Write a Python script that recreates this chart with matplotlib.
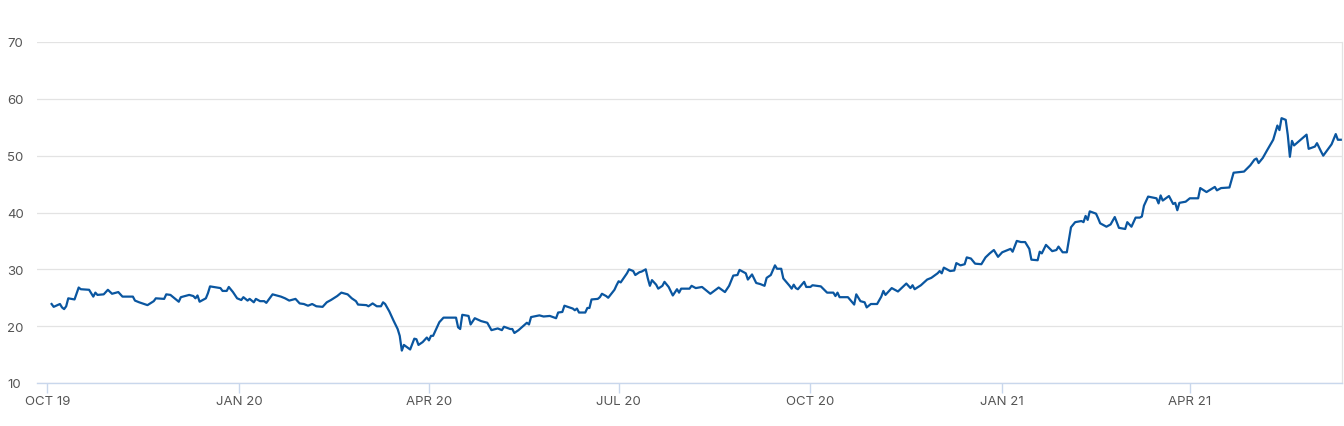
import matplotlib
matplotlib.use("Agg")
import matplotlib.pyplot as plt
import pandas as pd

plt.rcParams['font.family'] = ['Inter', 'DejaVu Sans']

dates_2019 = [
    "2019-10-03", "2019-10-04", "2019-10-07", "2019-10-08", "2019-10-09", "2019-10-10",
    "2019-10-11", "2019-10-14", "2019-10-16", "2019-10-17", "2019-10-21", "2019-10-23",
    "2019-10-24", "2019-10-25", "2019-10-28", "2019-10-30", "2019-11-01", "2019-11-04",
    "2019-11-06", "2019-11-11", "2019-11-12", "2019-11-14", "2019-11-18", "2019-11-21",
    "2019-11-22", "2019-11-26", "2019-11-27", "2019-11-29", "2019-12-03", "2019-12-04",
    "2019-12-08", "2019-12-10", "2019-12-11", "2019-12-12", "2019-12-13", "2019-12-16",
    "2019-12-17", "2019-12-18", "2019-12-23", "2019-12-24", "2019-12-26", "2019-12-27",
    "2019-12-29", "2019-12-31",
]
values_2019 = [
    23.9, 23.4, 23.9, 23.3, 23.0, 23.5,
    24.9, 24.7, 26.8, 26.5, 26.4, 25.2,
    25.9, 25.5, 25.6, 26.4, 25.7, 26.0,
    25.2, 25.2, 24.5, 24.2, 23.7, 24.4,
    24.9, 24.8, 25.6, 25.5, 24.3, 25.1,
    25.5, 25.3, 24.9, 25.4, 24.3, 24.9,
    25.8, 27.0, 26.7, 26.2, 26.2, 26.9,
    26.0, 24.9,
]

dates_2020a = [
    "2020-01-02", "2020-01-03", "2020-01-05", "2020-01-06", "2020-01-08", "2020-01-09",
    "2020-01-11", "2020-01-13", "2020-01-14", "2020-01-17", "2020-01-21", "2020-01-23",
    "2020-01-25", "2020-01-28", "2020-01-30", "2020-02-01", "2020-02-03", "2020-02-05",
    "2020-02-07", "2020-02-10", "2020-02-12", "2020-02-14", "2020-02-17", "2020-02-19",
    "2020-02-22", "2020-02-24", "2020-02-26", "2020-02-27", "2020-03-02", "2020-03-03",
    "2020-03-05", "2020-03-07", "2020-03-09", "2020-03-10", "2020-03-11", "2020-03-13",
    "2020-03-15", "2020-03-17", "2020-03-18", "2020-03-19", "2020-03-20", "2020-03-23",
    "2020-03-25", "2020-03-26", "2020-03-27", "2020-03-29", "2020-03-31", "2020-04-01",
    "2020-04-02", "2020-04-03", "2020-04-06", "2020-04-08", "2020-04-13", "2020-04-14",
    "2020-04-15", "2020-04-16", "2020-04-17", "2020-04-20", "2020-04-21", "2020-04-23",
    "2020-04-26", "2020-04-29", "2020-05-01", "2020-05-04", "2020-05-06", "2020-05-07",
    "2020-05-10", "2020-05-11", "2020-05-12", "2020-05-14", "2020-05-18", "2020-05-19",
    "2020-05-20", "2020-05-24", "2020-05-26", "2020-05-29", "2020-06-01", "2020-06-02",
    "2020-06-04", "2020-06-05", "2020-06-09", "2020-06-10", "2020-06-11", "2020-06-12",
    "2020-06-15", "2020-06-16", "2020-06-17", "2020-06-18", "2020-06-21", "2020-06-22",
    "2020-06-23", "2020-06-25", "2020-06-26", "2020-06-29", "2020-06-30",
]
values_2020a = [
    24.6, 25.1, 24.5, 24.8, 24.2, 24.8,
    24.4, 24.4, 24.1, 25.6, 25.2, 24.9,
    24.5, 24.8, 24.0, 23.9, 23.6, 23.9,
    23.5, 23.4, 24.2, 24.6, 25.3, 25.9,
    25.6, 24.9, 24.4, 23.8, 23.7, 23.5,
    24.0, 23.5, 23.5, 24.2, 23.9, 22.6,
    21.0, 19.5, 18.3, 15.7, 16.7, 15.9,
    17.8, 17.7, 16.7, 17.2, 18.0, 17.5,
    18.3, 18.3, 20.7, 21.5, 21.5, 21.5,
    19.8, 19.5, 22.0, 21.8, 20.3, 21.4,
    20.9, 20.6, 19.3, 19.6, 19.3, 19.9,
    19.5, 19.5, 18.8, 19.3, 20.6, 20.3,
    21.6, 21.9, 21.7, 21.8, 21.4, 22.4,
    22.5, 23.6, 23.1, 22.8, 23.1, 22.4,
    22.4, 23.2, 23.2, 24.7, 24.8, 25.1,
    25.7, 25.3, 25.0, 26.4, 27.2,
]

dates_2020b = [
    "2020-07-01", "2020-07-02", "2020-07-05", "2020-07-06", "2020-07-08", "2020-07-09",
    "2020-07-11", "2020-07-12", "2020-07-14", "2020-07-15", "2020-07-16", "2020-07-17",
    "2020-07-19", "2020-07-20", "2020-07-22", "2020-07-23", "2020-07-25", "2020-07-27",
    "2020-07-29", "2020-07-30", "2020-07-31", "2020-08-04", "2020-08-05", "2020-08-07",
    "2020-08-10", "2020-08-14", "2020-08-18", "2020-08-21", "2020-08-23", "2020-08-25",
    "2020-08-27", "2020-08-28", "2020-08-31", "2020-09-01", "2020-09-03", "2020-09-05",
    "2020-09-07", "2020-09-09", "2020-09-10", "2020-09-12", "2020-09-14", "2020-09-15",
    "2020-09-17", "2020-09-18", "2020-09-21", "2020-09-22", "2020-09-23", "2020-09-24",
    "2020-09-25", "2020-09-28", "2020-09-29", "2020-10-01", "2020-10-02", "2020-10-06",
    "2020-10-09", "2020-10-12", "2020-10-13", "2020-10-14", "2020-10-15", "2020-10-19",
    "2020-10-22", "2020-10-23", "2020-10-25", "2020-10-27", "2020-10-28", "2020-10-30",
    "2020-11-02", "2020-11-04", "2020-11-05", "2020-11-06", "2020-11-09", "2020-11-12",
    "2020-11-16", "2020-11-18", "2020-11-19", "2020-11-20", "2020-11-23", "2020-11-26",
    "2020-11-28", "2020-12-01", "2020-12-02", "2020-12-03", "2020-12-04", "2020-12-07",
    "2020-12-09", "2020-12-10", "2020-12-12", "2020-12-14", "2020-12-15", "2020-12-17",
    "2020-12-19", "2020-12-22", "2020-12-24", "2020-12-26", "2020-12-28", "2020-12-30",
]
values_2020b = [
    27.9, 27.7, 29.3, 30.0, 29.7, 29.0,
    29.5, 29.6, 30.0, 28.4, 27.1, 28.1,
    27.3, 26.6, 27.1, 27.8, 26.9, 25.4,
    26.5, 25.9, 26.6, 26.6, 27.1, 26.7,
    26.9, 25.7, 26.8, 26.0, 27.1, 28.9,
    29.0, 29.9, 29.3, 28.2, 29.1, 27.6,
    27.4, 27.1, 28.5, 29.0, 30.7, 30.1,
    30.1, 28.4, 27.1, 26.6, 27.3, 26.7,
    26.5, 27.8, 26.9, 26.9, 27.2, 27.0,
    25.9, 25.9, 25.3, 25.9, 25.1, 25.1,
    23.8, 25.6, 24.4, 24.2, 23.3, 23.9,
    23.9, 25.2, 26.2, 25.5, 26.7, 26.1,
    27.5, 26.7, 27.2, 26.5, 27.2, 28.2,
    28.5, 29.3, 29.7, 29.3, 30.3, 29.7,
    29.8, 31.1, 30.7, 30.9, 32.1, 31.9,
    31.0, 30.9, 32.1, 32.8, 33.4, 32.2,
]

dates_2021 = [
    "2021-01-01", "2021-01-05", "2021-01-06", "2021-01-08", "2021-01-10", "2021-01-12",
    "2021-01-14", "2021-01-15", "2021-01-18", "2021-01-19", "2021-01-20", "2021-01-22",
    "2021-01-25", "2021-01-27", "2021-01-28", "2021-01-30", "2021-02-01", "2021-02-03",
    "2021-02-05", "2021-02-08", "2021-02-09", "2021-02-10", "2021-02-11", "2021-02-12",
    "2021-02-15", "2021-02-16", "2021-02-17", "2021-02-20", "2021-02-22", "2021-02-24",
    "2021-02-26", "2021-03-01", "2021-03-02", "2021-03-04", "2021-03-06", "2021-03-08",
    "2021-03-09", "2021-03-10", "2021-03-12", "2021-03-16", "2021-03-17", "2021-03-18",
    "2021-03-19", "2021-03-22", "2021-03-24", "2021-03-25", "2021-03-26", "2021-03-27",
    "2021-03-30", "2021-04-01", "2021-04-05", "2021-04-06", "2021-04-09", "2021-04-13",
    "2021-04-14", "2021-04-16", "2021-04-20", "2021-04-22", "2021-04-27", "2021-04-30",
    "2021-05-02", "2021-05-03", "2021-05-04", "2021-05-06", "2021-05-08", "2021-05-11",
    "2021-05-13", "2021-05-14", "2021-05-15", "2021-05-17", "2021-05-18", "2021-05-19",
    "2021-05-20", "2021-05-21", "2021-05-27", "2021-05-28", "2021-05-31", "2021-06-01",
    "2021-06-03", "2021-06-04", "2021-06-08", "2021-06-10", "2021-06-11", "2021-06-13",
]
values_2021 = [
    33.0, 33.6, 33.1, 35.0, 34.8, 34.8,
    33.6, 31.7, 31.6, 33.1, 32.8, 34.3,
    33.2, 33.4, 34.0, 33.0, 33.0, 37.4,
    38.3, 38.5, 38.3, 39.4, 38.7, 40.2,
    39.8, 39.0, 38.1, 37.5, 37.9, 39.2,
    37.3, 37.1, 38.3, 37.5, 39.1, 39.1,
    39.3, 41.2, 42.8, 42.5, 41.6, 43.0,
    42.1, 42.9, 41.5, 41.7, 40.4, 41.7,
    41.9, 42.5, 42.5, 44.3, 43.6, 44.5,
    43.9, 44.3, 44.4, 47.0, 47.2, 48.3,
    49.3, 49.5, 48.7, 49.6, 50.9, 52.8,
    55.3, 54.5, 56.6, 56.3, 53.6, 49.8,
    52.6, 51.8, 53.7, 51.2, 51.6, 52.2,
    50.7, 50.0, 52.0, 53.8, 52.8, 52.8,
]

y_ticks = [10, 20, 30, 40, 50, 60, 70]
x_tick_dates = ["2019-10-01", "2020-01-01", "2020-04-01", "2020-07-01",
                "2020-10-01", "2021-01-01", "2021-04-01"]
x_tick_labels = ["OCT 19", "JAN 20", "APR 20", "JUL 20", "OCT 20", "JAN 21", "APR 21"]

dates = pd.to_datetime(dates_2019 + dates_2020a + dates_2020b + dates_2021)
values = values_2019 + values_2020a + values_2020b + values_2021

fig = plt.figure(figsize=(13.44, 4.27), dpi=100)
ax = fig.add_axes([37 / 1344, 1 - 384 / 427, (1342 - 37) / 1344, (384 - 43) / 427])

ax.plot(dates, values, color="#0a56a0", linewidth=1.6, solid_joinstyle="round")

ax.set_ylim(10, 70)
ax.set_xlim(pd.Timestamp("2019-09-26"), pd.Timestamp("2021-06-13"))
ax.set_yticks(y_ticks)
ax.set_yticklabels([str(v) for v in y_ticks])
ax.set_xticks(pd.to_datetime(x_tick_dates))
ax.set_xticklabels(x_tick_labels)

ax.grid(axis="y", color="#e3e3e3", linewidth=0.9)
ax.grid(axis="x", visible=False)
ax.set_axisbelow(True)

for side in ["top", "left"]:
    ax.spines[side].set_visible(False)
ax.spines["right"].set_color("#e3e3e3")
ax.spines["right"].set_linewidth(0.9)
ax.spines["bottom"].set_color("#c9d7ec")
ax.spines["bottom"].set_linewidth(1.0)

# left-aligned y labels starting ~30 px left of the axes (pad in points)
ax.tick_params(axis="y", length=0, pad=21.5, labelsize=9.5, labelcolor="#555555")
for lbl in ax.get_yticklabels():
    lbl.set_horizontalalignment("left")
ax.tick_params(axis="x", length=7, width=1.0, color="#c9d7ec", pad=2,
               labelsize=9.5, labelcolor="#555555")

fig.savefig("out.png", dpi=100, facecolor="white")
